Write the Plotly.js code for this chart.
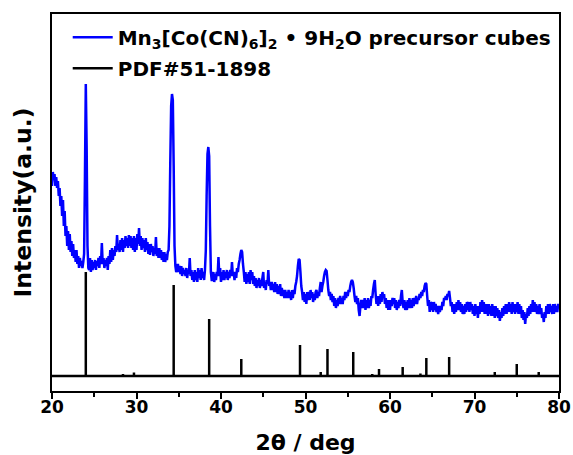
<!DOCTYPE html>
<html>
<head>
<meta charset="utf-8">
<script src="https://cdn.plot.ly/plotly-3.0.1.min.js"></script>
<style>html,body{margin:0;padding:0;background:#fff;}#chart{width:573px;height:455px;}</style>
</head>
<body>
<div id="chart"></div>
<script>
// Measured XRD pattern, intensity (a.u.) sampled every 0.1 deg from 20.0 to 80.0
const scanStart = 20.0;
const scanStep = 0.1;
const intensity = [
  190,204,196,202,190,199,188,195,180,188, // 20
  170,180,160,176,150,165,140,150,130,145, // 21
  126,142,124,135,120,132,118,126,114,126, // 22
  112,120,108,118,110,115,108,114,122,200, // 23
  292,230,130,108,106,118,104,116,106,114, // 24
  108,116,106,115,110,118,108,120,112,133, // 25
  112,118,108,116,110,118,106,120,112,126, // 26
  114,128,116,126,120,130,124,141,126,132, // 27
  124,136,126,138,124,136,128,140,130,138, // 28
  128,141,130,140,128,138,126,140,124,138, // 29
  126,142,132,148,130,140,126,138,128,136, // 30
  124,138,126,134,122,132,121,132,124,130, // 31
  120,128,122,139,120,128,118,128,118,126, // 32
  116,124,114,124,114,122,116,124,126,150, // 33
  215,270,282,276,210,130,110,104,106,112, // 34
  104,110,102,110,100,108,102,106,100,108, // 35
  98,106,102,118,100,106,96,104,94,106,    // 36
  96,104,94,108,98,106,96,108,98,104,      // 37
  96,106,125,180,222,229,220,150,104,96,   // 38
  96,104,94,102,96,104,100,119,100,108,    // 39
  94,104,96,106,96,104,98,106,96,104,      // 40
  98,106,100,114,100,104,96,104,98,108,    // 41
  104,112,116,122,126,124,112,104,94,104,  // 42
  92,102,94,104,92,106,96,104,92,100,      // 43
  90,98,88,96,90,98,88,96,90,98,           // 44
  104,88,94,86,96,92,106,90,94,86,         // 45
  94,86,92,84,94,84,92,82,90,82,           // 46
  92,80,88,80,86,78,86,78,84,78,           // 47
  86,78,84,76,86,78,86,82,90,94,           // 48
  100,110,117,116,104,90,84,76,84,74,      // 49
  82,72,84,76,84,76,86,78,84,74,           // 50
  82,76,84,86,78,84,80,88,94,84,           // 51
  90,94,100,104,106,105,96,86,80,84,       // 52
  76,82,74,80,70,78,68,76,70,78,           // 53
  72,80,72,78,72,80,76,84,78,84,           // 54
  80,86,84,90,94,96,94,88,80,74,           // 55
  80,72,78,66,60,70,76,68,76,68,           // 56
  78,66,76,68,78,68,76,70,80,78,           // 57
  86,92,96,82,72,80,70,80,72,82,           // 58
  74,84,78,82,72,78,68,76,66,76,           // 59
  66,76,70,78,72,78,68,76,66,74,           // 60
  68,76,70,80,86,74,68,76,66,74,           // 61
  66,76,68,78,68,76,68,78,70,78,           // 62
  72,80,72,78,76,82,78,84,80,86,           // 63
  84,90,93,92,80,70,76,64,74,66,           // 64
  74,64,74,66,72,64,70,62,70,64,           // 65
  70,66,74,70,78,76,80,76,82,80,           // 66
  85,78,70,74,64,72,62,72,64,74,           // 67
  66,76,66,74,64,72,62,70,62,72,           // 68
  64,74,66,74,64,74,66,72,62,70,           // 69
  60,72,62,70,58,70,62,74,64,76,           // 70
  64,74,62,72,62,72,60,72,62,70,           // 71
  60,72,60,70,58,70,60,68,58,66,           // 72
  55,64,58,68,60,70,62,72,62,72,           // 73
  64,74,64,72,62,74,64,72,62,72,           // 74
  64,74,62,72,62,70,58,66,56,64,           // 75
  52,62,58,68,60,70,62,72,64,76,           // 76
  64,74,64,72,62,70,62,72,62,68,           // 77
  58,62,54,64,58,70,62,72,62,72,           // 78
  64,70,62,72,62,72,64,70,64,72,           // 79
  68                                       // 80
];
const twoTheta = intensity.map((_, i) => +(scanStart + i * scanStep).toFixed(1));

// Reference pattern PDF#51-1898: line positions (deg) and relative heights (a.u.)
const pdfPositions = [24.0, 28.4, 29.7, 34.4, 38.6, 42.4, 49.35, 51.8, 52.6, 55.65, 57.9, 58.7, 61.5, 63.6, 64.3, 67.0, 72.4, 75.0, 77.6];
const pdfHeights   = [104, 2, 3.5, 91, 57, 17, 31, 4, 27, 24, 2, 7, 9, 2.5, 18, 19, 4, 12, 4];

const xTicks = [20, 30, 40, 50, 60, 70, 80];
const sampleName = 'Mn<sub>3</sub>[Co(CN)<sub>6</sub>]<sub>2</sub> \u2022 9H<sub>2</sub>O precursor cubes';
const pdfName = 'PDF#51-1898';

const stickX = [], stickY = [];
pdfPositions.forEach((p, i) => { stickX.push(p, p, null); stickY.push(0, pdfHeights[i], null); });

const FONT = 'DejaVu Sans, Arial, sans-serif';

const traces = [
  {x: twoTheta, y: intensity, type: 'scatter', mode: 'lines', name: sampleName,
   line: {color: '#0000ff', width: 2.5, simplify: false}, legendgroup: 'a'},
  {x: stickX, y: stickY, type: 'scatter', mode: 'lines', name: pdfName,
   line: {color: '#000000', width: 2.5}, legendgroup: 'b', connectgaps: false}
];

const layout = {
  width: 573, height: 455,
  margin: {l: 52, r: 14, t: 14, b: 64},
  paper_bgcolor: '#ffffff', plot_bgcolor: '#ffffff',
  font: {family: FONT, color: '#000', weight: 'bold'},
  showlegend: true,
  legend: {x: 0.031, xanchor: 'left', y: 0.99, yanchor: 'top', bgcolor: 'rgba(0,0,0,0)',
           font: {family: FONT, size: 20, weight: 'bold', color: '#000'},
           traceorder: 'grouped', tracegroupgap: 2, itemwidth: 40},
  xaxis: {range: [20, 80], tickvals: xTicks, ticks: 'outside', ticklen: 6, tickwidth: 2,
          tickcolor: '#000', showline: true, linewidth: 2, linecolor: '#000', mirror: true,
          showgrid: false, zeroline: false, ticklabelstandoff: -6,
          minor: {dtick: 5, tick0: 20, ticks: 'outside', ticklen: 4, tickwidth: 2, tickcolor: '#000', showgrid: false},
          tickfont: {family: FONT, size: 17, weight: 'bold', color: '#000'},
          title: {text: '2\u03b8 / deg', font: {family: FONT, size: 22, weight: 'bold', color: '#000'}, standoff: 21}},
  yaxis: {range: [-15, 362], showticklabels: false, ticks: '', showline: true, linewidth: 2,
          linecolor: '#000', mirror: true, showgrid: false, zeroline: false,
          title: {text: 'Intensity(a.u.)', font: {family: FONT, size: 23.5, weight: 'bold', color: '#000'}, standoff: 12}},
  shapes: [{type: 'line', xref: 'paper', x0: 0, x1: 1, yref: 'y', y0: 0, y1: 0,
            line: {color: '#000', width: 2.5}}]
};

Plotly.newPlot('chart', traces, layout, {displayModeBar: false, staticPlot: true});
</script>
</body>
</html>
